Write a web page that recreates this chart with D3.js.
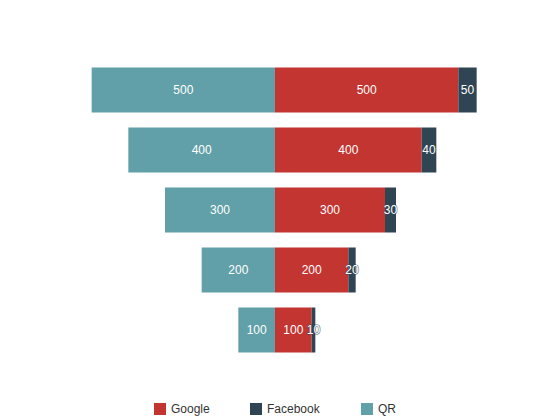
<!DOCTYPE html>
<html>
<head>
<meta charset="utf-8">
<script src="https://cdn.jsdelivr.net/npm/d3@7"></script>
<style>
  body { margin: 0; background: #fff; }
  text { font-family: "Liberation Sans", Arial, sans-serif; }
</style>
</head>
<body>
<div id="chart"></div>
<script>
// chart data
const categories = ["Stage 1", "Stage 2", "Stage 3", "Stage 4", "Stage 5"];
const google = [500, 400, 300, 200, 100];
const facebook = [50, 40, 30, 20, 10];
const qr = [500, 400, 300, 200, 100];
const seriesNames = ["Google", "Facebook", "QR"];
const colors = ["#c23531", "#2f4554", "#61a0a8"];

const width = 550, height = 420;
const grid = {top: 60, right: 55, bottom: 60, left: 55};

const svg = d3.select("#chart").append("svg")
    .attr("width", width)
    .attr("height", height);

const x = d3.scaleLinear()
    .domain([-600, 600])
    .range([grid.left, width - grid.right]);

const y = d3.scaleBand()
    .domain(categories)
    .range([grid.top, height - grid.bottom])
    .paddingInner(0.25)
    .paddingOuter(0.125);

// build segments: QR goes left, Google then Facebook stack to the right
const segs = [];
categories.forEach((c, i) => {
    segs.push({cat: c, s: 2, x0: -qr[i], x1: 0, v: qr[i]});
    segs.push({cat: c, s: 0, x0: 0, x1: google[i], v: google[i]});
    segs.push({cat: c, s: 1, x0: google[i], x1: google[i] + facebook[i], v: facebook[i]});
});

svg.selectAll(".bar")
    .data(segs)
  .enter().append("rect")
    .attr("class", "bar")
    .attr("x", d => x(d.x0))
    .attr("width", d => x(d.x1) - x(d.x0))
    .attr("y", d => y(d.cat))
    .attr("height", y.bandwidth())
    .attr("fill", d => colors[d.s]);

svg.selectAll(".lbl")
    .data(segs)
  .enter().append("text")
    .attr("class", "lbl")
    .attr("x", d => (x(d.x0) + x(d.x1)) / 2)
    .attr("y", d => y(d.cat) + y.bandwidth() / 2)
    .attr("dy", "0.35em")
    .attr("text-anchor", "middle")
    .attr("fill", "#fff")
    .attr("stroke", d => colors[d.s])
    .attr("stroke-width", 1.5)
    .attr("stroke-opacity", 0.6)
    .style("paint-order", "stroke")
    .style("font-size", "12px")
    .text(d => d.v);

// legend
const legendX = [154, 250, 361];
const lg = svg.selectAll(".legend")
    .data(seriesNames)
  .enter().append("g")
    .attr("class", "legend")
    .attr("transform", (d, i) => `translate(${legendX[i]},403)`);

lg.append("rect")
    .attr("width", 12)
    .attr("height", 12)
    .attr("fill", (d, i) => colors[i]);

lg.append("text")
    .attr("x", 17)
    .attr("y", 6)
    .attr("dy", "0.35em")
    .attr("fill", "#333")
    .style("font-size", "12px")
    .text(d => d);
</script>
</body>
</html>
